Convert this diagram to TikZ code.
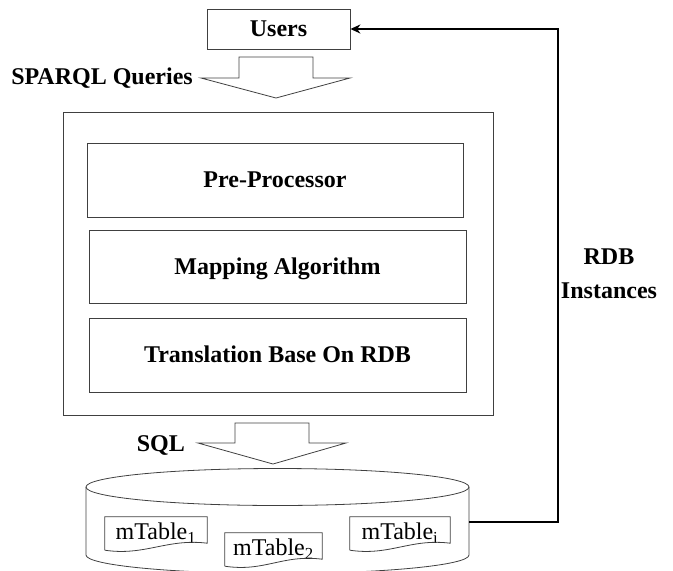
\documentclass[tikz,border=0pt]{standalone}
\usepackage{fontspec}
\setmainfont{Liberation Serif}
\usetikzlibrary{arrows.meta}
\newcommand\docoutline[1]{%
  \draw[line] ([yshift=-4pt]#1.south west) -- (#1.north west) -- (#1.north east) -- ([yshift=3pt]#1.south east)
    .. controls +(-40,-5) and +(40,6) .. ([yshift=-4pt]#1.south west);}
\begin{document}
\begin{tikzpicture}[x=1pt,y=-1pt,
  line/.style={draw=black!75, line width=0.8pt},
  box/.style={line, rectangle, inner sep=0pt},
  lbl/.style={font=\fontsize{24}{26}\selectfont\bfseries, text height=15.8pt, text depth=0pt, inner sep=0pt},
  tbl/.style={font=\fontsize{24}{26}\selectfont, text height=15.8pt, text depth=0pt, inner sep=0pt},
  feedback/.style={line width=2.8pt, -{Stealth[length=10pt,width=9pt]}}]
\useasboundingbox (0,0) rectangle (673,571);
% users
\node[box, lbl, minimum width=143pt, minimum height=40pt] (users) at (278.5,29) {Users};
% processing engine
\node[box, minimum width=430pt, minimum height=303pt] (engine) at (278,263.5) {};
\node[box, lbl, minimum width=376pt, minimum height=74pt] (pre) at (275,180) {Pre-Processor};
\node[box, lbl, minimum width=377pt, minimum height=73pt] (map) at (277.5,266.5) {Mapping Algorithm};
\node[box, lbl, minimum width=377pt, minimum height=74pt] (trans) at (277.5,355) {Translation Base On RDB};
% SPARQL block arrow
\draw[line] (239,57) -- (313,57) -- (313,78) -- (350,78) -- (276,98) -- (201,78) -- (239,78) -- cycle;
\node[lbl, anchor=east] (sparql) at (193,77) {SPARQL Queries};
% SQL block arrow
\draw[line] (235,423) -- (309,423) -- (309,443) -- (346,443) -- (273,464) -- (198,443) -- (235,443) -- cycle;
\node[lbl, anchor=east] (sql) at (185,444) {SQL};
% database cylinder
\draw[line] (86,487) -- (86,555) arc[start angle=180,end angle=360,x radius=191.5pt,y radius=18.5pt] -- (469,487);
\draw[line] (277.5,487) ellipse[x radius=191.5pt,y radius=18.5pt];
\coordinate (db) at (469,522);
% tables
\node[tbl, minimum width=102pt, minimum height=29pt] (t1) at (156,531.5) {mTable\textsubscript{1}};
\node[tbl, minimum width=97pt, minimum height=29pt] (t2) at (273.5,547.5) {mTable\textsubscript{2}};
\node[tbl, minimum width=100pt, minimum height=29pt] (ti) at (400,531.5) {mTable\textsubscript{i}};
\docoutline{t1}
\docoutline{t2}
\docoutline{ti}
% feedback
\coordinate (turn) at (558,522);
\draw[feedback] (db) -- (turn) |- (users.east);
\node[font=\fontsize{24}{34}\selectfont\bfseries, align=center, inner sep=0pt] (rdb) at (609,274) {RDB\\Instances};
\end{tikzpicture}
\end{document}
